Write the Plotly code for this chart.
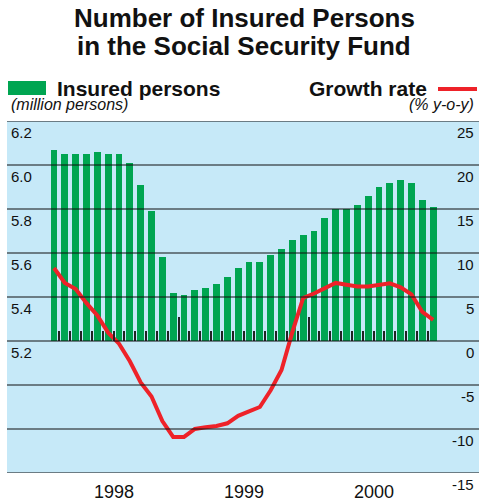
import plotly.graph_objects as go

# ---- data ----
months = [f"{y}-{m:02d}" for y in (1998, 1999, 2000) for m in range(1, 13)]
insured = [6.07, 6.05, 6.05, 6.05, 6.06, 6.05, 6.05, 6.01, 5.91, 5.79, 5.58, 5.42,
           5.41, 5.43, 5.44, 5.46, 5.49, 5.53, 5.56, 5.56, 5.59, 5.62, 5.66, 5.68,
           5.70, 5.76, 5.80, 5.80, 5.82, 5.86, 5.90, 5.92, 5.93, 5.92, 5.84, 5.81]
growth = [8.3, 6.6, 5.9, 4.3, 2.9, 0.95, -0.3, -2.3, -4.7, -6.3, -9.1, -10.9,
          -10.9, -10.0, -9.8, -9.65, -9.35, -8.5, -8.0, -7.5, -5.6, -3.3, 1.0, 4.9,
          5.4, 6.0, 6.6, 6.4, 6.2, 6.2, 6.4, 6.55, 6.1, 5.3, 3.3, 2.4]
years = ["1998", "1999", "2000"]
left_ticks = [5.2, 5.4, 5.6, 5.8, 6.0, 6.2]
right_ticks = [-15, -10, -5, 0, 5, 10, 15, 20, 25]
title_lines = ["Number of Insured Persons", "in the Social Security Fund"]
bar_base = 5.2

GREEN = "#00A551"
RED = "#EE2229"
BLUE = "#C6E9F8"
FONT = "Liberation Sans, Arial, sans-serif"

idx = list(range(len(months)))
year_pos = [sum(i for i, m in enumerate(months) if m.startswith(y)) / 12 for y in years]
month_bounds = [i + 0.5 for i in idx[:-1]]
year_bounds = [i + 0.5 for i in idx[:-1] if months[i + 1].endswith("-01")]


def px_x(p):
    return (p - 7) / 472


def px_y(p):
    return (473 - p) / 352


fig = go.Figure()
fig.add_trace(go.Bar(x=idx, y=[v - bar_base for v in insured], base=bar_base,
                     marker=dict(color=GREEN, line=dict(width=0)), width=0.62,
                     xaxis="x", yaxis="y", name="Insured persons", hoverinfo="skip"))
fig.add_trace(go.Scatter(x=idx, y=growth, mode="lines", line=dict(color=RED, width=4),
                         xaxis="x", yaxis="y2", name="Growth rate"))

shapes = []
for v in right_ticks:
    shapes.append(dict(type="line", xref="paper", x0=0, x1=1, yref="y2", y0=v, y1=v,
                       line=dict(color="#111111", width=1.2), layer="above"))
# legend symbols
shapes.append(dict(type="rect", xref="paper", yref="paper",
                   x0=px_x(8), x1=px_x(46), y0=px_y(95), y1=px_y(81),
                   fillcolor=GREEN, line=dict(width=0)))
shapes.append(dict(type="line", xref="paper", yref="paper",
                   x0=px_x(438), x1=px_x(477), y0=px_y(89), y1=px_y(89),
                   line=dict(color=RED, width=4)))

ann = []
for line, yc in zip(title_lines, (18, 46)):
    ann.append(dict(text=f"<b>{line}</b>", x=px_x(244), xref="paper", xanchor="center",
                    y=px_y(yc), yref="paper", yanchor="middle", showarrow=False,
                    font=dict(size=26, color="#111", family=FONT)))
for v in left_ticks:
    ann.append(dict(text=f"{v:.1f}", x=0, xref="paper", xanchor="left", xshift=2,
                    y=v, yref="y", yanchor="middle", yshift=-11, showarrow=False,
                    font=dict(size=15, color="#111", family=FONT)))
for v in right_ticks:
    ann.append(dict(text=f"{v}", x=1, xref="paper", xanchor="right", xshift=-3,
                    y=v, yref="y2", yanchor="middle", yshift=-11, showarrow=False,
                    font=dict(size=15, color="#111", family=FONT)))
for p, y in zip(year_pos, years):
    ann.append(dict(text=y, x=p, xref="x", xanchor="center", y=0, yref="paper",
                    yanchor="top", yshift=-7, showarrow=False,
                    font=dict(size=18, color="#111", family=FONT)))
ann.append(dict(text="<b>Insured persons</b>", x=px_x(55), xref="paper", xanchor="left",
                y=px_y(88), yref="paper", yanchor="middle", showarrow=False,
                font=dict(size=21, color="#111", family=FONT)))
ann.append(dict(text="<i>(million persons)</i>", x=px_x(9), xref="paper", xanchor="left",
                y=px_y(104.5), yref="paper", yanchor="middle", showarrow=False,
                font=dict(size=16, color="#111", family=FONT)))
ann.append(dict(text="<b>Growth rate</b>", x=px_x(429), xref="paper", xanchor="right",
                y=px_y(88), yref="paper", yanchor="middle", showarrow=False,
                font=dict(size=21, color="#111", family=FONT)))
ann.append(dict(text="<i>(% y-o-y)</i>", x=px_x(476), xref="paper", xanchor="right",
                y=px_y(104.5), yref="paper", yanchor="middle", showarrow=False,
                font=dict(size=16, color="#111", family=FONT)))

fig.update_layout(
    width=479, height=501,
    margin=dict(l=7, r=0, t=121, b=28),
    paper_bgcolor="white", plot_bgcolor=BLUE,
    showlegend=False, bargap=0,
    xaxis=dict(range=[-4.34, 39.23], anchor="free", position=0.375,
               showgrid=False, zeroline=False, showline=False,
               tickmode="array", tickvals=year_bounds, ticks="inside", ticklen=24,
               tickwidth=1.5, tickcolor="#222", showticklabels=False,
               minor=dict(tickmode="array", tickvals=month_bounds, ticks="inside",
                          ticklen=10, tickwidth=1.5, tickcolor="#222", showgrid=False),
               fixedrange=True),
    yaxis=dict(range=[4.6, 6.2], showgrid=False, zeroline=False, showline=False,
               showticklabels=False, ticks=""),
    yaxis2=dict(range=[-15, 25], overlaying="y", side="right", showgrid=False,
                zeroline=False, showline=False, showticklabels=False, ticks=""),
    shapes=shapes, annotations=ann,
)

fig.write_html("out.html", config={"displayModeBar": False},
               post_script="document.body.style.margin='0px';document.body.style.overflow='hidden';")
